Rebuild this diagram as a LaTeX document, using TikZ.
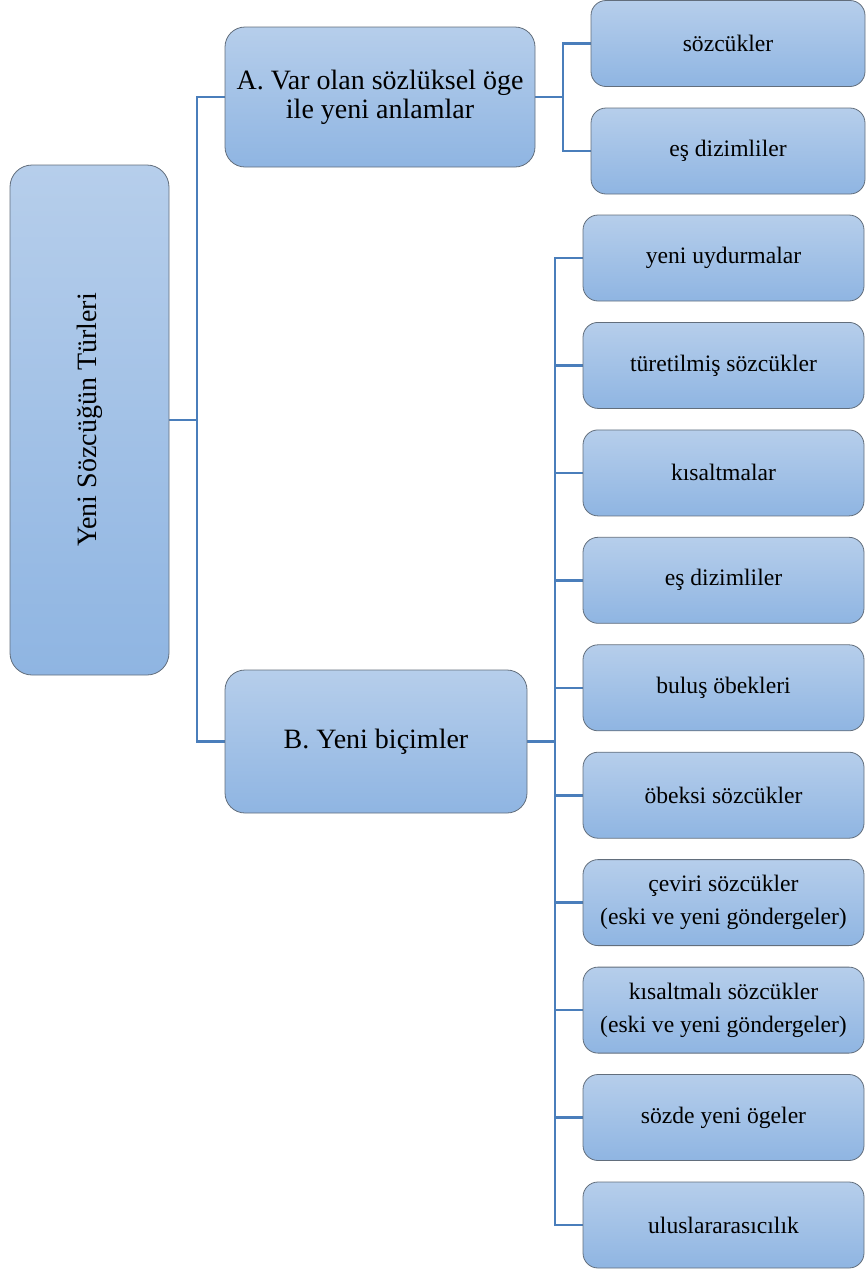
\documentclass[tikz,border=0pt]{standalone}
\usepackage{fontspec}
\setmainfont{Liberation Serif}
\usetikzlibrary{backgrounds}
\begin{document}
\begin{tikzpicture}[x=1pt,y=-1pt,
  box/.style={draw={rgb,255:red,98;green,110;blue,124}, line width=0.8pt,
    top color={rgb,255:red,182;green,206;blue,235},
    bottom color={rgb,255:red,143;green,181;blue,226},
    inner sep=0pt, align=center, text=black},
  bigbox/.style={box, rounded corners=20pt, font=\fontsize{28}{29}\selectfont},
  leaf/.style={box, rounded corners=15pt, minimum height=86pt,
    font=\fontsize{23.6}{33}\selectfont},
  aleaf/.style={leaf, minimum width=274pt},
  bleaf/.style={leaf, minimum width=281pt},
  conn/.style={draw={rgb,255:red,74;green,126;blue,187}, line width=2.6pt,
    line cap=rect, line join=miter}]
\useasboundingbox (0,0) rectangle (866,1270);

% root of the tree
\node[box, rounded corners=22pt, minimum width=159pt, minimum height=510pt] (root) at (89.5,420) {};
\node[rotate=90, font=\fontsize{28}{30}\selectfont] (rootlabel) at (root.center) {Yeni Sözcüğün Türleri};

% the two main branches
\node[bigbox, minimum width=310pt, minimum height=140pt] (A) at (380,97)
  {A. Var olan sözlüksel öge\\ile yeni anlamlar};
\node[bigbox, minimum width=302pt, minimum height=143pt] (B) at (376,741.5)
  {B. Yeni biçimler};

% leaves of branch A
\node[aleaf] (a1) at (728,43.5) {sözcükler};
\node[aleaf] (a2) at (728,151) {eş dizimliler};

% leaves of branch B
\node[bleaf] (b1)  at (723.5,258)    {yeni uydurmalar};
\node[bleaf] (b2)  at (723.5,365.4)  {türetilmiş sözcükler};
\node[bleaf] (b3)  at (723.5,472.9)  {kısaltmalar};
\node[bleaf] (b4)  at (723.5,580.3)  {eş dizimliler};
\node[bleaf] (b5)  at (723.5,687.8)  {buluş öbekleri};
\node[bleaf] (b6)  at (723.5,795.2)  {öbeksi sözcükler};
\node[bleaf] (b7)  at (723.5,902.6)  {çeviri sözcükler\\(eski ve yeni göndergeler)};
\node[bleaf] (b8)  at (723.5,1010.1) {kısaltmalı sözcükler\\(eski ve yeni göndergeler)};
\node[bleaf] (b9)  at (723.5,1117.5) {sözde yeni ögeler};
\node[bleaf] (b10) at (723.5,1225)   {uluslararasıcılık};

% junction points of the elbow connectors
\coordinate (jR) at (197,420);
\coordinate (jA) at (563,97);
\coordinate (jB) at (555,741.5);

% connectors sit behind the boxes
\begin{scope}[on background layer]
\draw[conn] (root.east) -- (jR) |- (A.west);
\draw[conn] (jR) |- (B.west);

\draw[conn] (A.east) -- (jA) |- (a1.west);
\draw[conn] (jA) |- (a2.west);

\draw[conn] (B.east) -- (jB);
\foreach \n in {b1,b2,b3,b4,b5,b6,b7,b8,b9,b10}
  \draw[conn] (jB) |- (\n.west);
\end{scope}
\end{tikzpicture}
\end{document}
